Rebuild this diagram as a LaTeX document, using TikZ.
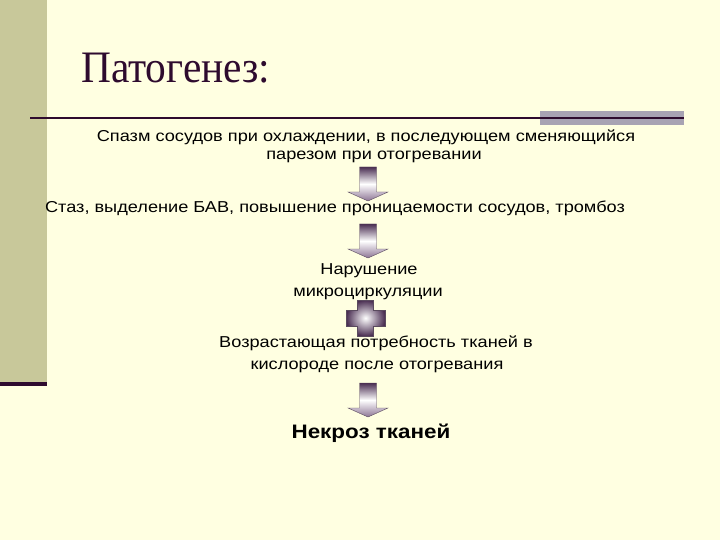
\documentclass[tikz,border=0pt]{standalone}
\usepackage{fontspec}
\setmainfont{Liberation Sans}
\newfontfamily\bodyfont[FakeStretch=1.15]{Liberation Sans}
\newfontfamily\titlefont[FakeStretch=0.92]{Liberation Serif}
\usepackage{xcolor}
\usepackage{tikz}
\definecolor{slidebg}{HTML}{FFFFE1}
\definecolor{stripcolor}{HTML}{C8C89A}
\definecolor{darkplum}{HTML}{2E0B2E}
\definecolor{barcolor}{HTML}{A8A3B3}
\definecolor{arrowtop}{HTML}{4A2E52}
\definecolor{arrowbottom}{HTML}{8C7494}
\definecolor{arrowedge}{HTML}{5A4A5E}
\tikzset{stepnode/.style={anchor=base,font=\bodyfont\fontsize{15.8}{18}\selectfont,inner sep=0pt},
	arrowshade/.style={draw=arrowedge,line width=0.4pt,top color=arrowtop,bottom color=arrowbottom,middle color=white},
	plusshade/.style={draw=arrowedge,line width=0.4pt,inner color=white,outer color=arrowtop},
	pics/downarrow/.style={code={
		\path[arrowshade] (-8.5,0) -- (8.5,0) -- (8.5,25) -- (20,25) -- (0,34) -- (-20,25) -- (-8.5,25) -- cycle;
	}}}

\begin{document}
\begin{tikzpicture}[x=1pt,y=-1pt]
		\fill[slidebg] (0,0) rectangle (720,540);
		\useasboundingbox (0,0) rectangle (720,540);
		\fill[stripcolor] (0,0) rectangle (47,382);
		\fill[darkplum] (0,382) rectangle (47,386);
		\fill[barcolor] (540,111) rectangle (684,125);
		\draw[darkplum,line width=2pt] (30,118) -- (684,118);
		%
		\node[anchor=base west,inner sep=0pt,text=darkplum,font=\titlefont\fontsize{45}{50}\selectfont] (title) at (81,83) {Патогенез:};
		%
		\node[stepnode] (spazm1) at (366,142) {Спазм сосудов при охлаждении, в последующем сменяющийся};
		\node[stepnode] (spazm2) at (374,160) {парезом при отогревании};
		\node[stepnode] (staz) at (335,212) {Стаз, выделение БАВ, повышение проницаемости сосудов, тромбоз};
		\node[stepnode] (narush1) at (369,274) {Нарушение};
		\node[stepnode] (narush2) at (368,296) {микроциркуляции};
		\node[stepnode] (potreb1) at (376,347) {Возрастающая потребность тканей в};
		\node[stepnode] (potreb2) at (377,369) {кислороде после отогревания};
		\node[stepnode,font=\bodyfont\bfseries\fontsize{19.5}{22}\selectfont] (nekroz) at (371,438) {Некроз тканей};
		%
		\pic (arrow1) at (368,167) {downarrow};
		\pic (arrow2) at (368,224) {downarrow};
		\pic (arrow3) at (368,383) {downarrow};
		\path[plusshade] (357,300) -- (373,300) -- (373,310) -- (385,310) -- (385,326) -- (373,326)
			-- (373,336) -- (357,336) -- (357,326) -- (346,326) -- (346,310) -- (357,310) -- cycle;
	\end{tikzpicture}
\end{document}
